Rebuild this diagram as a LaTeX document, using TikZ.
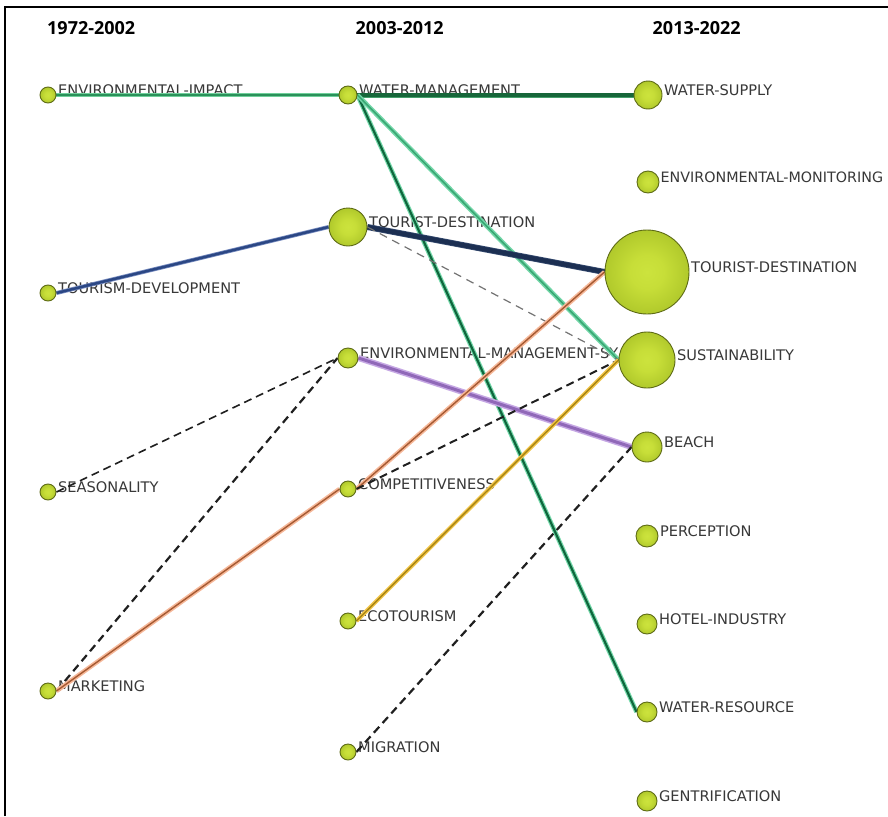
\documentclass[tikz,border=0pt]{standalone}
\usepackage{fontspec}
\newfontfamily\labfont{DejaVu Sans}
\newfontfamily\headfont{Open Sans}
\pgfdeclarelayer{bg}
\pgfdeclarelayer{labels}
\pgfdeclarelayer{edges}
\pgfsetlayers{bg,labels,edges,main}
\pgfdeclareradialshading{nodeball}{\pgfpoint{0bp}{0bp}}{rgb(0bp)=(0.80,0.89,0.24);rgb(10bp)=(0.78,0.87,0.22);rgb(34bp)=(0.64,0.74,0.14);rgb(50bp)=(0.45,0.53,0.07)}
\definecolor{ballline}{HTML}{5E6B16}
\definecolor{labgray}{HTML}{383838}
\definecolor{gLightA}{HTML}{6FCF9A}
\definecolor{gCoreA}{HTML}{2A915A}
\definecolor{gLightB}{HTML}{45A06C}
\definecolor{gCoreB}{HTML}{17663A}
\definecolor{gLightC}{HTML}{74D8AA}
\definecolor{gCoreC}{HTML}{0F673D}
\definecolor{gLightD}{HTML}{72D6A8}
\definecolor{gCoreD}{HTML}{3AA874}
\definecolor{bLight}{HTML}{7489BE}
\definecolor{bCore}{HTML}{2B4784}
\definecolor{nLight}{HTML}{34496E}
\definecolor{nCore}{HTML}{1C2F52}
\definecolor{pLight}{HTML}{C6A8E4}
\definecolor{pCore}{HTML}{9068B8}
\definecolor{oLight}{HTML}{F6B899}
\definecolor{oCore}{HTML}{A65A32}
\definecolor{yLight}{HTML}{F2C54A}
\definecolor{yCore}{HTML}{A88512}
\tikzset{
  ball/.style={circle, inner sep=0pt, shading=nodeball, draw=ballline, line width=0.9pt},
  lab/.style={font={\labfont\fontsize{14.6}{16}\selectfont}, text=labgray, inner sep=0pt},
  head/.style={font={\headfont\bfseries\fontsize{18}{20}\selectfont}, inner sep=0pt, text=black},
  duo/.style n args={4}{preaction={draw=#1, line width=#2}, draw=#3, line width=#4},
  dashblack/.style={draw=black!88, line width=#1, dash pattern=on 8pt off 5pt},
  dashblack/.default=2pt,
  dashgray/.style={draw=black!55, line width=1.2pt, dash pattern=on 8pt off 6pt},
}
% name, x, y, diameter, label
\newcommand\ballnode[5]{%
  \node[ball, minimum size=#4pt] (#1) at (#2,#3) {};
  \begin{pgfonlayer}{labels}
    \node[lab, anchor=base west] (#1-lab) at ([xshift=1.5pt, yshift=-0.5pt]#1.east) {#5};
  \end{pgfonlayer}}
\begin{document}
\begin{tikzpicture}[x=1pt, y=-1pt]
\useasboundingbox (0,0) rectangle (888,816);
\begin{pgfonlayer}{bg}
  \fill[white] (0,0) rectangle (888,816);
\end{pgfonlayer}
\draw[line width=2pt] (5,816) -- (5,7) -- (888,7);

\node[head, anchor=base west] (h1) at (47,35) {1972-2002};
\node[head, anchor=base west] (h2) at (355.5,35) {2003-2012};
\node[head, anchor=base west] (h3) at (652.5,35) {2013-2022};

% column 1
\ballnode{ei}{48}{95}{16}{ENVIRONMENTAL-IMPACT}
\ballnode{tdev}{48}{293}{16}{TOURISM-DEVELOPMENT}
\ballnode{seas}{48}{492}{16}{SEASONALITY}
\ballnode{mkt}{48}{691}{16}{MARKETING}
% column 2
\ballnode{wm}{348}{95}{18}{WATER-MANAGEMENT}
\ballnode{tdb}{348}{227}{38}{TOURIST-DESTINATION}
\ballnode{ems}{348}{358}{20}{ENVIRONMENTAL-MANAGEMENT-SY}
\ballnode{comp}{348}{489}{16}{COMPETITIVENESS}
\ballnode{eco}{348}{621}{16}{ECOTOURISM}
\ballnode{mig}{348}{752}{16}{MIGRATION}
% column 3
\ballnode{ws}{648}{95}{28}{WATER-SUPPLY}
\node[ball, minimum size=22pt] (emon) at (648,182) {};
\begin{pgfonlayer}{labels}
  \node[lab, font={\labfont\fontsize{14.3}{16}\selectfont}, anchor=base west] (emon-lab) at ([xshift=1pt, yshift=-0.5pt]emon.east) {ENVIRONMENTAL-MONITORING};
\end{pgfonlayer}
\ballnode{tdc}{647}{272}{84}{TOURIST-DESTINATION}
\ballnode{sus}{647}{360}{56}{SUSTAINABILITY}
\ballnode{beach}{647}{447}{30}{BEACH}
\ballnode{perc}{647}{536}{22}{PERCEPTION}
\ballnode{hotel}{647}{624}{20}{HOTEL-INDUSTRY}
\ballnode{wr}{647}{712}{20}{WATER-RESOURCE}
\ballnode{gent}{647}{801}{20}{GENTRIFICATION}

\begin{pgfonlayer}{edges}
  \draw[duo={gLightA}{4.5pt}{gCoreA}{1.6pt}] (ei.east) -- (wm.west);
  \draw[duo={gLightB}{5pt}{gCoreB}{3.5pt}] (wm.east) -- (ws.west);
  \draw[duo={gLightC}{4.5pt}{gCoreC}{2.2pt}] (wm.east) -- (wr.west);
  \draw[duo={gLightD}{4.5pt}{gCoreD}{1.6pt}] (wm.east) -- (sus.west);
  \draw[duo={bLight}{4pt}{bCore}{2.5pt}] (tdev.east) -- (tdb.west);
  \draw[duo={nLight}{6pt}{nCore}{4.5pt}] (tdb.east) -- (tdc.west);
  \draw[dashgray] (tdb.east) -- (sus.west);
  \draw[dashblack=1.6pt] (seas.east) -- (ems.west);
  \draw[dashblack=2.2pt] (mkt.east) -- (ems.west);
  \draw[duo={pLight}{6pt}{pCore}{3pt}] (ems.east) -- (beach.west);
  \draw[duo={oLight}{4.5pt}{oCore}{1.4pt}] (mkt.east) -- (comp.west);
  \draw[duo={oLight}{4.5pt}{oCore}{1.4pt}] (comp.east) -- (tdc.west);
  \draw[dashblack=2pt] (comp.east) -- (sus.west);
  \draw[duo={yLight}{4pt}{yCore}{1.4pt}] (eco.east) -- (sus.west);
  \draw[dashblack=2.2pt] (mig.east) -- (beach.west);
\end{pgfonlayer}
\end{tikzpicture}
\end{document}
